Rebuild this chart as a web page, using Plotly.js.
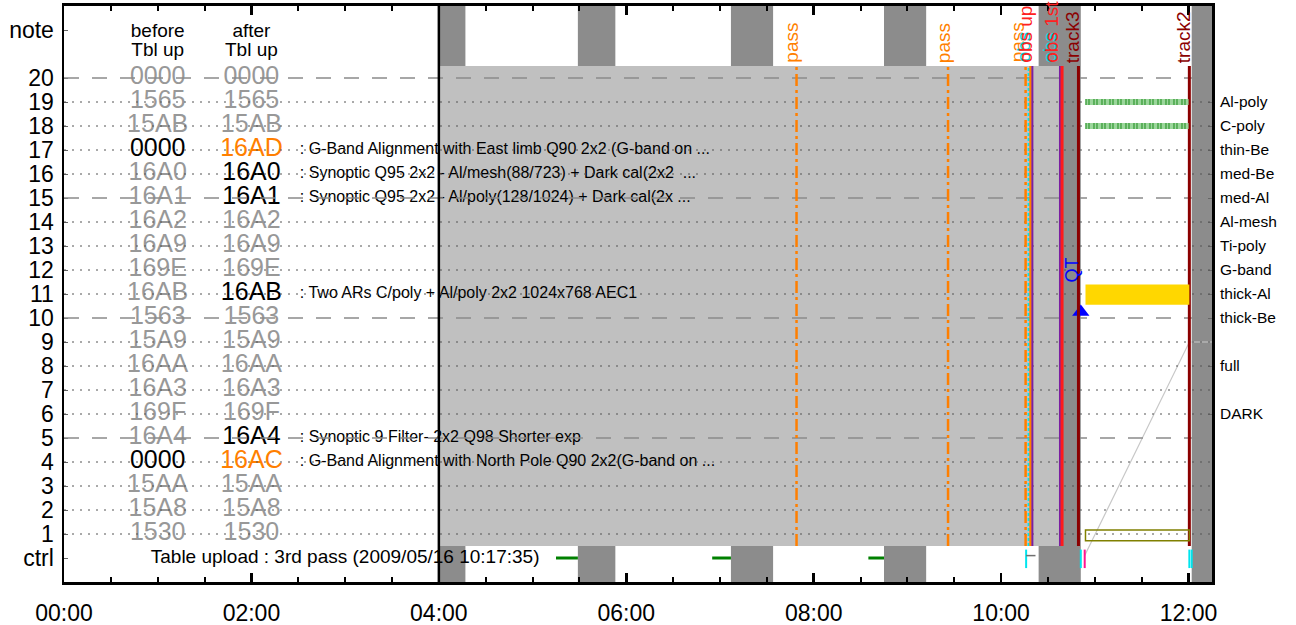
<!DOCTYPE html>
<html><head><meta charset="utf-8">
<script src="https://cdn.plot.ly/plotly-3.0.1.min.js"></script>
<style>html,body{margin:0;padding:0;background:#fff}#chart{width:1296px;height:625px}</style>
</head><body><div id="chart"></div>
<script>
const DAY = '2009-05-16 ';
const t = s => DAY + s;

// ---------- data ----------
const rowNums = [20,19,18,17,16,15,14,13,12,11,10,9,8,7,6,5,4,3,2,1];
const beforeCodes = ['0000','1565','15AB','0000','16A0','16A1','16A2','16A9','169E','16AB','1563','15A9','16AA','16A3','169F','16A4','0000','15AA','15A8','1530'];
const beforeState = ['g','g','g','k','g','g','g','g','g','g','g','g','g','g','g','g','k','g','g','g'];
const afterCodes  = ['0000','1565','15AB','16AD','16A0','16A1','16A2','16A9','169E','16AB','1563','15A9','16AA','16A3','169F','16A4','16AC','15AA','15A8','1530'];
const afterState  = ['g','g','g','o','k','k','g','g','g','k','g','g','g','g','g','k','o','g','g','g'];
const beforeColTime = '01:00';
const afterColTime = '02:00';

const descRows = [17,16,15,11,5,4];
const descTexts = [
  ': G-Band Alignment with East limb Q90 2x2 (G-band on ...',
  ': Synoptic Q95 2x2 - Al/mesh(88/723) + Dark cal(2x2  ...',
  ': Synoptic Q95 2x2 - Al/poly(128/1024) + Dark cal(2x ...',
  ': Two ARs C/poly + Al/poly 2x2 1024x768 AEC1',
  ': Synoptic 9 Filter- 2x2 Q98 Shorter exp',
  ': G-Band Alignment with North Pole Q90 2x2(G-band on ...'
];
const descTime = '02:31';

const ctrlText = 'Table upload : 3rd pass (2009/05/16 10:17:35)';
const ctrlTextTime = '03:00';

const filterNames = ['Al-poly','C-poly','thin-Be','med-Be','med-Al','Al-mesh','Ti-poly','G-band','thick-Al','thick-Be','full','DARK'];
const filterRows  = [19,18,17,16,15,14,13,12,11,10,8,6];

const nightStart = ['04:00','05:29','07:07','08:45','10:24','12:02'];
const nightEnd   = ['04:17','05:53','07:34','09:12','10:51','12:15'];

const planStart = '04:00';
const planEnd = '10:38';

const ctrlGreenStart = ['05:15','06:55','08:35'];
const ctrlGreenEnd   = ['05:29','07:07','08:45'];

const eventTimes = ['07:49','09:26','10:15:40','10:17:35','10:18:50','10:20:00','10:37:40','10:39:00','10:49:30','12:00:30'];
const eventKinds = ['pass','pass','pass','upload','obs','obsEnd','obsEnd','op','track','track'];

const labelTexts = ['pass','pass','pass','obs','obs up','obs','obs 1st','track3','track2'];
const labelTimes = ['07:46','09:23','10:10:30','10:14:00','10:15:30','10:31:00','10:32:30','10:45:40','11:56:40'];
const labelKinds = ['pass','pass','pass','upload','op','upload','op','track','track'];

const ctrlMarkTimes = ['10:16:00','10:51:00','10:53:30','12:00:30','12:02:00'];
const ctrlMarkKinds = ['upload','upload','op','upload','upload'];
const ctrlTickStart = '10:16:00';
const ctrlTickEnd = '10:22:00';

const hatchRows = [19,18];
const hatchStart = '10:54';
const hatchEnd = '12:00';

const goldRow = 11;
const goldStart = '10:54';
const goldEnd = '12:00:30';

const olivRow = 1;
const olivStart = '10:54';
const olivEnd = '12:00:30';

const diagTimes = ['10:53:30','12:00:30','12:15'];
const diagRows  = [0.1, 9, 9];

const qtTime = '10:51';
const qtRow = 10.25;
const qtLabelTime = '10:45:40';
const qtLabelRow = 12;

// ---------- styles ----------
const FONT = 'Liberation Sans, Arial, Helvetica, sans-serif';
const stateColor = {g:'#989898', k:'#000000', o:'#ff7f00'};
const kindStyle = {
  pass:   {color:'#ff7f00', width:2.5, dash:'12px,4px,3px,4px'},
  upload: {color:'#00e5ee', width:2, dash:'3px,2px'},
  obs:    {color:'#ff7f00', width:2.5, dash:'solid'},
  obsEnd: {color:'#7a1fa2', width:2, dash:'solid'},
  op:     {color:'#ff1a1a', width:3, dash:'solid'},
  track:  {color:'#8b0000', width:3, dash:'solid'}
};
const labelColor = {pass:'#ff7f00', upload:'#00d0e0', op:'#ff2020', track:'#8b0000'};
const markColor = {upload:'#00e5ee', op:'#ff1493'};

// ---------- traces ----------
const traces = [];
traces.push({
  x: rowNums.map(()=>t(beforeColTime)), y: rowNums, text: beforeCodes,
  mode:'text', textposition:'middle center',
  textfont:{family:FONT, size:25, color: beforeState.map(s=>stateColor[s])},
  hoverinfo:'skip', showlegend:false
});
traces.push({
  x: rowNums.map(()=>t(afterColTime)), y: rowNums, text: afterCodes,
  mode:'text', textposition:'middle center',
  textfont:{family:FONT, size:25, color: afterState.map(s=>stateColor[s])},
  hoverinfo:'skip', showlegend:false
});
traces.push({
  x:[t(beforeColTime), t(beforeColTime), t(afterColTime), t(afterColTime)],
  y:[21.92, 21.12, 21.92, 21.12], text:['before','Tbl up','after','Tbl up'],
  mode:'text', textposition:'middle center',
  textfont:{family:FONT, size:19, color:'#000'}, hoverinfo:'skip', showlegend:false
});
traces.push({
  x: descRows.map(()=>t(descTime)), y: descRows, text: descTexts,
  mode:'text', textposition:'middle right',
  textfont:{family:FONT, size:16, color:'#000'}, hoverinfo:'skip', showlegend:false
});
traces.push({
  x:[t(ctrlTextTime)], y:[0], text:[ctrlText], mode:'text', textposition:'middle center',
  textfont:{family:FONT, size:19, color:'#000'}, hoverinfo:'skip', showlegend:false
});
traces.push({
  x: diagTimes.map(t), y: diagRows, mode:'lines',
  line:{color:'#c8c8c8', width:1.2}, hoverinfo:'skip', showlegend:false
});
traces.push({
  x:[t(qtTime)], y:[qtRow], mode:'markers',
  marker:{symbol:'triangle-up', size:15, color:'#0000ff'}, hoverinfo:'skip', showlegend:false
});
// invisible trace for the right axis
traces.push({x:[t('00:00')], y:[0], yaxis:'y2', mode:'markers', marker:{opacity:0}, hoverinfo:'skip', showlegend:false});

// ---------- shapes ----------
const shapes = [];
nightStart.forEach((s,i)=>shapes.push({type:'rect', xref:'x', yref:'y', x0:t(s), x1:t(nightEnd[i]), y0:-1, y1:23,
  fillcolor:'#8c8c8c', line:{width:0}, layer:'below'}));
shapes.push({type:'rect', xref:'x', yref:'y', x0:t(planStart), x1:t(planEnd), y0:0.5, y1:20.5,
  fillcolor:'#c0c0c0', line:{width:0}, layer:'below'});
rowNums.forEach(r=>{
  const major = r % 5 === 0;
  shapes.push({type:'line', xref:'paper', yref:'y', x0:0, x1:1, y0:r, y1:r, layer:'above',
    line: major ? {color:'#8a8a8a', width:1.5, dash:'15px,13px'} : {color:'#555', width:1, dash:'2px,6px'}});
});
shapes.push({type:'line', xref:'x', yref:'paper', x0:t(planStart), x1:t(planStart), y0:0, y1:1, layer:'above',
  line:{color:'#000', width:2.5}});
eventTimes.forEach((s,i)=>{
  const st = kindStyle[eventKinds[i]];
  shapes.push({type:'line', xref:'x', yref:'y', x0:t(s), x1:t(s), y0:0.5, y1:20.5, layer:'above',
    line:{color:st.color, width:st.width, dash:st.dash}});
});
ctrlGreenStart.forEach((s,i)=>shapes.push({type:'line', xref:'x', yref:'y', x0:t(s), x1:t(ctrlGreenEnd[i]), y0:0, y1:0,
  layer:'above', line:{color:'#008000', width:3}}));
ctrlMarkTimes.forEach((s,i)=>shapes.push({type:'line', xref:'x', yref:'y', x0:t(s), x1:t(s), y0:-0.42, y1:0.35,
  layer:'above', line:{color:markColor[ctrlMarkKinds[i]], width:2}}));
shapes.push({type:'line', xref:'x', yref:'y', x0:t(ctrlTickStart), x1:t(ctrlTickEnd), y0:0.1, y1:0.1,
  layer:'above', line:{color:'#707070', width:1.5}});
hatchRows.forEach(r=>{
  shapes.push({type:'rect', xref:'x', yref:'y', x0:t(hatchStart), x1:t(hatchEnd), y0:r-0.13, y1:r+0.13,
    fillcolor:'#9bd69b', line:{width:0}, layer:'above'});
  shapes.push({type:'line', xref:'x', yref:'y', x0:t(hatchStart), x1:t(hatchEnd), y0:r, y1:r,
    line:{color:'#1e8c1e', width:6, dash:'1px,2px,1px,4px'}, layer:'above'});
});
shapes.push({type:'rect', xref:'x', yref:'y', x0:t(goldStart), x1:t(goldEnd), y0:goldRow-0.45, y1:goldRow+0.4,
  fillcolor:'#ffd700', line:{width:0}, layer:'above'});
shapes.push({type:'rect', xref:'x', yref:'y', x0:t(olivStart), x1:t(olivEnd), y0:olivRow-0.28, y1:olivRow+0.17,
  fillcolor:'rgba(0,0,0,0)', line:{color:'#808000', width:1.5}, layer:'above'});

// ---------- annotations ----------
const annotations = [];
labelTexts.forEach((txt,i)=>annotations.push({
  x:t(labelTimes[i]), y:20.55, xref:'x', yref:'y', text:txt, showarrow:false, textangle:-90,
  xanchor:'center', yanchor:'bottom', font:{family:FONT, size:19, color:labelColor[labelKinds[i]]}
}));
annotations.push({x:t(qtLabelTime), y:qtLabelRow, xref:'x', yref:'y', text:'QT', showarrow:false, textangle:-90,
  xanchor:'center', yanchor:'middle', font:{family:FONT, size:18, color:'#0000ff'}});

const yTickVals = [0].concat(rowNums.slice().reverse(), [22]);
const yTickText = ['ctrl'].concat(rowNums.slice().reverse().map(String), ['note']);

const layout = {
  width:1296, height:625,
  margin:{l:64, r:84, t:6, b:43},
  paper_bgcolor:'#fff', plot_bgcolor:'#fff',
  font:{family:FONT, color:'#000'},
  showlegend:false,
  xaxis:{type:'date', range:[t('00:00'), t('12:15')], tickformat:'%H:%M', tick0:t('00:00'), dtick:7200000,
    ticks:'inside', ticklen:9, tickwidth:2.5, tickcolor:'#000',
    minor:{dtick:1800000, ticks:'inside', ticklen:5, tickwidth:2, tickcolor:'#000', showgrid:false},
    showline:true, linewidth:3, linecolor:'#000', mirror:'ticks', showgrid:false, zeroline:false,
    tickfont:{family:FONT, size:23, color:'#000'}, ticklabelstandoff:8, fixedrange:true},
  yaxis:{range:[-1,23], tickmode:'array', tickvals:yTickVals, ticktext:yTickText,
    ticks:'inside', ticklen:4, tickwidth:1, tickcolor:'#666',
    showline:true, linewidth:2.5, linecolor:'#000', mirror:true, showgrid:false, zeroline:false,
    tickfont:{family:FONT, size:23, color:'#000'}, ticklabelstandoff:3, fixedrange:true},
  yaxis2:{range:[-1,23], overlaying:'y', side:'right', tickmode:'array', tickvals:filterRows, ticktext:filterNames,
    ticks:'inside', ticklen:4, tickwidth:1, tickcolor:'#666', showline:false, showgrid:false, zeroline:false,
    tickfont:{family:FONT, size:15.5, color:'#000'}, ticklabelstandoff:7, fixedrange:true},
  shapes:shapes,
  annotations:annotations
};

Plotly.newPlot('chart', traces, layout, {staticPlot:true, displayModeBar:false});
</script>
</body></html>
